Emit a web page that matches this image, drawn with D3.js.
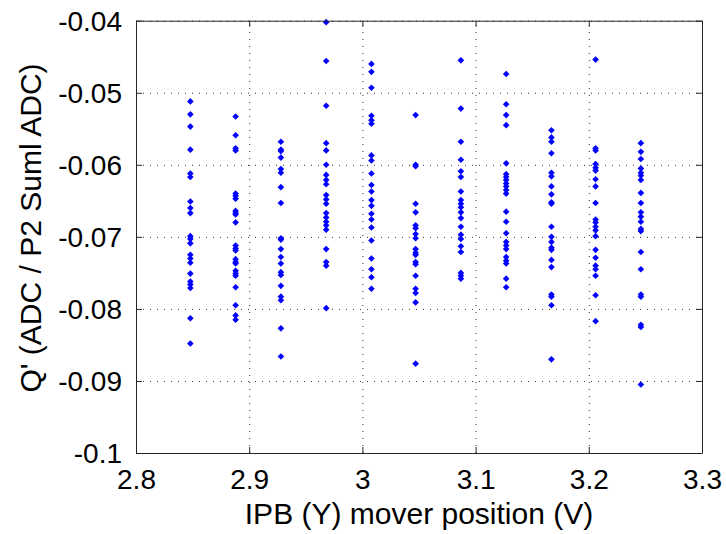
<!DOCTYPE html>
<html>
<head>
<meta charset="utf-8">
<script src="https://cdn.jsdelivr.net/npm/d3@7"></script>
<style>
  body { margin: 0; background: #fff; }
  svg { display: block; font-family: "Liberation Sans", Arial, sans-serif; }
  .tick text { fill: #000; }
</style>
</head>
<body>
<div id="chart"></div>
<script>
// x position of each measurement column (V)
var xPos = [2.848, 2.888, 2.928, 2.968, 3.008, 3.047, 3.087, 3.127, 3.167, 3.206, 3.246];

// Q' values, top to bottom
var col1 = [-0.0512, -0.0530, -0.0547, -0.0579, -0.0612, -0.0617, -0.0651, -0.0660, -0.0667, -0.0699,
	-0.0703, -0.0709, -0.0725, -0.0730, -0.0736, -0.0751, -0.0762, -0.0766, -0.0771, -0.0813, -0.0848];
var col2 = [-0.0533, -0.0559, -0.0577, -0.0580, -0.0640, -0.0643, -0.0647, -0.0664, -0.0667, -0.0669,
	-0.0680, -0.0712, -0.0716, -0.0719, -0.0731, -0.0735, -0.0737, -0.0747, -0.0751, -0.0754,
	-0.0770, -0.0795, -0.0809, -0.0815];
var col3 = [-0.0568, -0.0579, -0.0581, -0.0590, -0.0606, -0.0611, -0.0631, -0.0653, -0.0702, -0.0704,
	-0.0717, -0.0728, -0.0737, -0.0749, -0.0753, -0.0768, -0.0783, -0.0788, -0.0827, -0.0866];
var col4 = [-0.0402, -0.0456, -0.0518, -0.0570, -0.0580, -0.0600, -0.0614, -0.0621, -0.0627, -0.0642,
	-0.0648, -0.0654, -0.0667, -0.0673, -0.0679, -0.0684, -0.0690, -0.0717, -0.0735, -0.0740, -0.0799];
var col5 = [-0.0460, -0.0471, -0.0493, -0.0532, -0.0538, -0.0543, -0.0587, -0.0594, -0.0612, -0.0628,
	-0.0637, -0.0649, -0.0657, -0.0668, -0.0676, -0.0687, -0.0705, -0.0730, -0.0745, -0.0756, -0.0772];
var col6 = [-0.0531, -0.0600, -0.0602, -0.0654, -0.0666, -0.0684, -0.0688, -0.0696, -0.0702, -0.0717,
	-0.0722, -0.0725, -0.0735, -0.0738, -0.0754, -0.0772, -0.0778, -0.0791, -0.0876];
var col7 = [-0.0455, -0.0522, -0.0568, -0.0593, -0.0609, -0.0617, -0.0637, -0.0649, -0.0654, -0.0659,
	-0.0666, -0.0674, -0.0686, -0.0697, -0.0703, -0.0713, -0.0721, -0.0750, -0.0754, -0.0758];
var col8 = [-0.0474, -0.0516, -0.0531, -0.0545, -0.0598, -0.0613, -0.0617, -0.0621, -0.0626, -0.0630,
	-0.0635, -0.0640, -0.0665, -0.0679, -0.0695, -0.0707, -0.0712, -0.0717, -0.0728, -0.0733,
	-0.0737, -0.0758, -0.0770];
var col9 = [-0.0552, -0.0562, -0.0568, -0.0584, -0.0611, -0.0616, -0.0630, -0.0641, -0.0652, -0.0654,
	-0.0686, -0.0700, -0.0707, -0.0715, -0.0718, -0.0732, -0.0742, -0.0780, -0.0783, -0.0795, -0.0870];
var col10 = [-0.0454, -0.0577, -0.0580, -0.0599, -0.0604, -0.0608, -0.0620, -0.0630, -0.0653, -0.0676,
	-0.0680, -0.0686, -0.0691, -0.0699, -0.0718, -0.0729, -0.0740, -0.0745, -0.0754, -0.0781, -0.0817];
var col11 = [-0.0570, -0.0582, -0.0592, -0.0605, -0.0611, -0.0615, -0.0621, -0.0639, -0.0653, -0.0666,
	-0.0672, -0.0679, -0.0689, -0.0692, -0.0721, -0.0745, -0.0780, -0.0783, -0.0822, -0.0825, -0.0905];

var columns = [col1, col2, col3, col4, col5, col6, col7, col8, col9, col10, col11];

var xTicks = [2.8, 2.9, 3.0, 3.1, 3.2, 3.3];
var yTicks = [-0.1, -0.09, -0.08, -0.07, -0.06, -0.05, -0.04];

var xLabel = "IPB (Y) mover position (V)";
var yLabel = "Q' (ADC / P2 Suml ADC)";

// flatten to points
var points = [];
columns.forEach(function (col, i) {
	col.forEach(function (v) {
		points.push({ x: xPos[i], y: v });
	});
});

var W = 726, H = 534;
var margin = { left: 136, right: 24, top: 20.7, bottom: 81 };
var width = W - margin.left - margin.right,
	height = H - margin.top - margin.bottom;

var x = d3.scaleLinear().domain([2.8, 3.3]).range([0, width]);
var y = d3.scaleLinear().domain([-0.1, -0.04]).range([height, 0]);

var fmt = function (d) { return String(+d.toFixed(2)); };

var svg = d3.select("#chart").append("svg")
	.attr("width", W)
	.attr("height", H);

var g = svg.append("g")
	.attr("transform", "translate(" + margin.left + "," + margin.top + ")");

// dotted grid
var gridX = g.append("g")
	.attr("transform", "translate(0," + height + ")")
	.call(d3.axisBottom(x).tickValues(xTicks).tickSize(-height).tickFormat(""));
var gridY = g.append("g")
	.call(d3.axisLeft(y).tickValues(yTicks).tickSize(-width).tickFormat(""));
[gridX, gridY].forEach(function (gr) {
	gr.select(".domain").remove();
	gr.selectAll("line")
		.attr("stroke", "#333")
		.attr("stroke-width", 1)
		.attr("stroke-dasharray", "1,6");
});

// points, small diamonds like matlab's '.' marker
var marker = d3.symbol().type(d3.symbolSquare).size(22);
g.append("g").selectAll("path")
	.data(points)
	.enter().append("path")
	.attr("d", marker)
	.attr("transform", function (d) {
		return "translate(" + x(d.x) + "," + y(d.y) + ") rotate(45)";
	})
	.attr("fill", "#0000ff");

// axes with inward ticks, on all four sides
var tickLen = 6;
var axB = g.append("g")
	.attr("transform", "translate(0," + height + ")")
	.call(d3.axisBottom(x).tickValues(xTicks).tickFormat(fmt)
		.tickSizeInner(-tickLen).tickSizeOuter(0).tickPadding(16));
var axL = g.append("g")
	.call(d3.axisLeft(y).tickValues(yTicks).tickFormat(fmt)
		.tickSizeInner(-tickLen).tickSizeOuter(0).tickPadding(14));
var axT = g.append("g")
	.call(d3.axisTop(x).tickValues(xTicks).tickFormat("")
		.tickSizeInner(-tickLen).tickSizeOuter(0));
var axR = g.append("g")
	.attr("transform", "translate(" + width + ",0)")
	.call(d3.axisRight(y).tickValues(yTicks).tickFormat("")
		.tickSizeInner(-tickLen).tickSizeOuter(0));

[axB, axL, axT, axR].forEach(function (ax) {
	ax.select(".domain").attr("stroke", "#262626");
	ax.selectAll("line").attr("stroke", "#262626");
	ax.selectAll("text")
		.attr("font-size", 28)
		.attr("font-family", "Liberation Sans, Arial, sans-serif");
});
axL.selectAll("text").attr("dy", "0.35em");

// axis titles
svg.append("text")
	.attr("x", margin.left + width / 2)
	.attr("y", 524)
	.attr("text-anchor", "middle")
	.attr("font-size", 30)
	.text(xLabel);

svg.append("text")
	.attr("transform", "translate(41," + 228 + ") rotate(-90)")
	.attr("text-anchor", "middle")
	.attr("font-size", 30)
	.text(yLabel);
</script>
</body>
</html>
